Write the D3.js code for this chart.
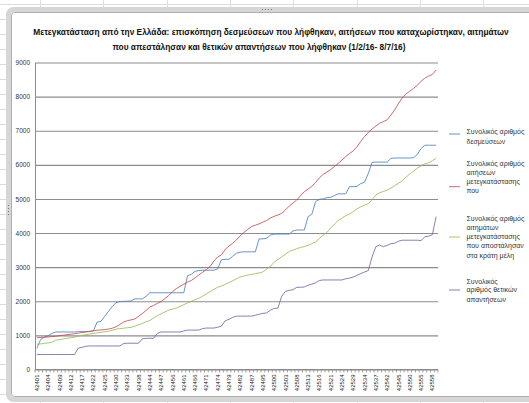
<!DOCTYPE html>
<meta charset="utf-8">
<script src="https://d3js.org/d3.v7.min.js"></script>
<style>
  body { margin: 0; background: #fff; }
  text { font-family: "Liberation Sans", Arial, sans-serif; }
</style>
<body>
<div id="chart"></div>
</body>
<script>

// categories: dates as Excel serial numbers (1/2/16 - 8/7/16)
var dates = [
  42401, 42402, 42403, 42404, 42405, 42408, 42409, 42410, 42411, 42412,
  42415, 42416, 42417, 42418, 42419, 42422, 42423, 42424, 42425, 42426,
  42429, 42430, 42431, 42432, 42433, 42436, 42437, 42438, 42439, 42440,
  42444, 42445, 42446, 42447, 42450, 42452, 42456, 42457, 42459, 42461,
  42464, 42465, 42466, 42467, 42468, 42471, 42472, 42473, 42474, 42475,
  42478, 42479, 42480, 42481, 42482, 42485, 42486, 42487, 42488, 42494,
  42495, 42496, 42499, 42500, 42501, 42502, 42503, 42506, 42507, 42508,
  42509, 42510, 42513, 42514, 42515, 42516, 42517, 42520, 42521, 42522,
  42523, 42524, 42527, 42528, 42529, 42530, 42531, 42534, 42535, 42536,
  42537, 42538, 42541, 42542, 42543, 42544, 42545, 42548, 42549, 42550,
  42551, 42552, 42555, 42556, 42557, 42558, 42559
];

// total pledges
var commitments = [
  620, 880, 950, 990, 1060, 1100, 1100, 1100, 1100, 1100,
  1100, 1110, 1110, 1110, 1110, 1130, 1390, 1410, 1560, 1700,
  1840, 1960, 1990, 2000, 2000, 2010, 2070, 2070, 2070, 2150,
  2250, 2250, 2250, 2250, 2250, 2250, 2250, 2250, 2250, 2250,
  2750, 2790, 2880, 2900, 2910, 2910, 2910, 2910, 2950, 3220,
  3230, 3230, 3320, 3410, 3440, 3450, 3450, 3450, 3450, 3830,
  3830, 3850, 3940, 3970, 3970, 3970, 3970, 3970, 4060, 4090,
  4090, 4090, 4480, 4550, 4920, 4990, 5000, 5040, 5050, 5100,
  5150, 5150, 5150, 5360, 5360, 5370, 5450, 5490, 5750, 6070,
  6080, 6080, 6080, 6080, 6190, 6200, 6200, 6200, 6200, 6200,
  6210, 6300, 6480, 6575, 6575, 6575, 6575
];

// total relocation applications
var applications = [
  930, 940, 945, 955, 965, 975, 990, 1005, 1020, 1035,
  1050, 1065, 1085, 1100, 1120, 1135, 1150, 1160, 1170, 1185,
  1210, 1250, 1320, 1390, 1430, 1455, 1480, 1560, 1640, 1730,
  1830, 1880, 1940, 1990, 2080, 2170, 2280, 2370, 2440, 2500,
  2560, 2610, 2690, 2770, 2850, 2930, 3020, 3180, 3300, 3360,
  3520, 3620, 3700, 3800, 3920, 4020, 4110, 4190, 4230, 4270,
  4320, 4370, 4440, 4490, 4530, 4580, 4680, 4790, 4880, 4970,
  5100, 5210, 5290, 5370, 5480, 5620, 5720, 5790, 5860, 5950,
  6040, 6140, 6240, 6330, 6410, 6530, 6690, 6830, 6950, 7050,
  7140, 7220, 7270, 7320, 7460, 7610, 7800, 7960, 8080, 8160,
  8240, 8330, 8450, 8540, 8600, 8650, 8780
];

// total relocation requests sent to member states
var requests = [
  740, 750, 765, 780, 800, 860, 875, 895, 915, 930,
  950, 975, 1000, 1020, 1040, 1060, 1075, 1090, 1105, 1120,
  1145, 1180, 1200, 1210, 1225, 1235, 1270, 1310, 1350, 1400,
  1440, 1510, 1580, 1630, 1690, 1740, 1770, 1800, 1850, 1900,
  1950, 2000, 2050, 2090, 2150, 2220, 2280, 2350, 2410, 2445,
  2500, 2550, 2600, 2660, 2715, 2740, 2770, 2790, 2810, 2830,
  2860, 2940, 3030, 3140, 3230, 3300, 3380, 3460, 3500, 3540,
  3580, 3600, 3640, 3690, 3740, 3840, 3940, 4020, 4150, 4260,
  4370, 4440, 4510, 4560, 4630, 4710, 4770, 4820, 4860, 4980,
  5120, 5180, 5220, 5260, 5320, 5390, 5460, 5530, 5640, 5730,
  5810, 5900, 5970, 6030, 6060, 6120, 6190
];

// total positive replies
var accepted = [
  440, 440, 440, 440, 440, 440, 440, 440, 440, 440,
  440, 630, 650, 680, 690, 690, 690, 690, 690, 690,
  690, 690, 690, 760, 770, 770, 770, 770, 900, 915,
  915, 915, 1060, 1100, 1100, 1100, 1100, 1100, 1100, 1130,
  1155, 1155, 1155, 1155, 1200, 1215, 1215, 1215, 1240, 1270,
  1430, 1470, 1530, 1565, 1565, 1565, 1565, 1565, 1590, 1620,
  1645, 1660, 1740, 1790, 1800, 2150, 2290, 2320, 2340, 2410,
  2410, 2420, 2470, 2500, 2540, 2610, 2625, 2625, 2625, 2625,
  2625, 2625, 2660, 2680, 2710, 2760, 2810, 2860, 2900, 3300,
  3600, 3650, 3600, 3640, 3690, 3700, 3760, 3790, 3790, 3790,
  3790, 3790, 3780, 3890, 3910, 3950, 4480
];

var yTicks = [0, 1000, 2000, 3000, 4000, 5000, 6000, 7000, 8000, 9000];

var titleLines = [
  "Μετεγκατάσταση από την Ελλάδα: επισκόπηση δεσμεύσεων που λήφθηκαν, αιτήσεων που καταχωρίστηκαν, αιτημάτων",
  "που απεστάλησαν και θετικών απαντήσεων που λήφθηκαν (1/2/16- 8/7/16)"
];

var legendLabels = [
  ["Συνολικός αριθμός", "δεσμεύσεων"],
  ["Συνολικός αριθμός", "αιτήσεων", "μετεγκατάστασης", "που"],
  ["Συνολικός αριθμός", "αιτημάτων", "μετεγκατάστασης", "που αποστάλησαν", "στα κράτη μέλη"],
  ["Συνολικός", "αριθμός θετικών", "απαντήσεων"]
];

var colors = ["#4f81bd", "#c0504d", "#9bbb59", "#8064a2"];

var series = [commitments, applications, requests, accepted];

var W = 529, H = 403;
var plot = { left: 35, right: 438, top: 62.5, bottom: 369.5 };

var svg = d3.select("#chart")
  .append("svg")
  .attr("width", W)
  .attr("height", H);

// worksheet grid behind the chart
var sheet = svg.append("g");
[40, 103, 167, 230, 293, 357, 420, 483].forEach(function (gx) {
  sheet.append("line").attr("x1", gx + 0.5).attr("x2", gx + 0.5)
    .attr("y1", 0).attr("y2", H).attr("stroke", "#dadcdd");
});
for (var gy = 4; gy < H; gy += 15) {
  sheet.append("line").attr("x1", 0).attr("x2", W)
    .attr("y1", gy + 0.5).attr("y2", gy + 0.5).attr("stroke", "#dadcdd");
}

// chart frame (selected)
svg.append("rect")
  .attr("x", 8.5).attr("y", 9.5).attr("width", 600).attr("height", 390)
  .attr("rx", 5)
  .attr("fill", "#fff").attr("stroke", "#d6d6d6").attr("stroke-width", 5);
svg.append("rect")
  .attr("x", 11.5).attr("y", 12.5).attr("width", 600).attr("height", 384)
  .attr("rx", 3)
  .attr("fill", "#fff").attr("stroke", "#9a9a9a").attr("stroke-width", 0.8);

// handles
[[262, 9.5], [8.5, 205]].forEach(function (h, k) {
  for (var j = 0; j < 4; j++) {
    svg.append("rect")
      .attr("x", k === 0 ? h[0] + j * 3 : h[0] - 0.5)
      .attr("y", k === 0 ? h[1] - 0.5 : h[1] + j * 3)
      .attr("width", 1).attr("height", 1).attr("fill", "#777");
  }
});

// title: shrink the font until each line fits its width in the reference
function fitText(sel, size, maxW) {
  sel.style("font-size", size + "px");
  var len = sel.node().getComputedTextLength();
  if (len > maxW) sel.style("font-size", (size * maxW / len).toFixed(2) + "px");
}
var t1 = svg.append("text")
  .attr("x", 271).attr("y", 35).attr("text-anchor", "middle")
  .style("font-family", "'Liberation Sans Narrow', 'Liberation Sans', Arial, sans-serif")
  .style("font-weight", "bold").attr("fill", "#111")
  .text(titleLines[0]);
fitText(t1, 9.5, 476);
var t2 = svg.append("text")
  .attr("x", 259).attr("y", 50).attr("text-anchor", "middle")
  .style("font-family", "'Liberation Sans Narrow', 'Liberation Sans', Arial, sans-serif")
  .style("font-weight", "bold").attr("fill", "#111")
  .text(titleLines[1]);
t2.style("font-size", t1.style("font-size"));

var idx = d3.range(dates.length);
var xb = d3.scaleBand().domain(idx).range([plot.left, plot.right]);
var xc = function (i) { return xb(i) + xb.bandwidth() / 2; };

var y = d3.scaleLinear().domain([0, 9000]).range([plot.bottom, plot.top]);

// y axis with gridlines
var yAxis = svg.append("g")
  .attr("transform", "translate(" + plot.left + ",0)")
  .call(d3.axisLeft(y).tickValues(yTicks).tickSize(-(plot.right - plot.left))
    .tickSizeOuter(0).tickPadding(5).tickFormat(d3.format("d")));
yAxis.select(".domain").attr("stroke", "#8c8c8c");
yAxis.selectAll(".tick line").attr("stroke", "#8c8c8c").attr("stroke-width", 1.1);
yAxis.selectAll(".tick text")
  .style("font-size", "6.5px").attr("fill", "#333");

// x axis: line, minor ticks at every category boundary, label every third category
var xAxis = svg.append("g");
xAxis.append("line")
  .attr("x1", plot.left).attr("x2", plot.right)
  .attr("y1", plot.bottom).attr("y2", plot.bottom)
  .attr("stroke", "#8c8c8c").attr("stroke-width", 1.1);
xAxis.selectAll("line.tick")
  .data(idx.concat([dates.length]))
  .enter().append("line")
  .attr("class", "tick")
  .attr("x1", function (i) { return i < dates.length ? xb(i) : plot.right; })
  .attr("x2", function (i) { return i < dates.length ? xb(i) : plot.right; })
  .attr("y1", plot.bottom).attr("y2", plot.bottom + 3)
  .attr("stroke", "#8c8c8c").attr("stroke-width", 0.8);
xAxis.selectAll("text")
  .data(idx.filter(function (i) { return i % 3 === 0; }))
  .enter().append("text")
  .attr("transform", function (i) { return "translate(" + xc(i) + "," + (plot.bottom + 5) + ") rotate(-90)"; })
  .attr("text-anchor", "end")
  .attr("dy", "0.35em")
  .style("font-size", "6px").attr("fill", "#222")
  .text(function (i) { return dates[i]; });

// lines
var line = d3.line()
  .x(function (d, i) { return xc(i); })
  .y(function (d) { return y(d); });

series.forEach(function (s, k) {
  svg.append("path")
    .datum(s)
    .attr("fill", "none")
    .attr("stroke", colors[k])
    .attr("stroke-width", 1)
    .attr("stroke-opacity", 0.85)
    .attr("stroke-linejoin", "round")
    .attr("d", line);
});

// legend
var legendItems = [
  { sampleY: 134, lines: [132, 141.7] },
  { sampleY: 186.7, lines: [163.3, 172.7, 181.7, 190.7] },
  { sampleY: 237, lines: [218.3, 227.3, 236.7, 246, 255.7] },
  { sampleY: 290, lines: [281.7, 290, 300] }
];
legendItems.forEach(function (it, k) {
  svg.append("line")
    .attr("x1", 449).attr("x2", 460)
    .attr("y1", it.sampleY).attr("y2", it.sampleY)
    .attr("stroke", colors[k]).attr("stroke-width", 1)
    .attr("stroke-opacity", 0.85);
  legendLabels[k].forEach(function (t, j) {
    svg.append("text")
      .attr("x", 466.5).attr("y", it.lines[j])
      .attr("dy", "0.35em")
      .style("font-size", "7px").attr("fill", "#333")
      .text(t);
  });
});

</script>
